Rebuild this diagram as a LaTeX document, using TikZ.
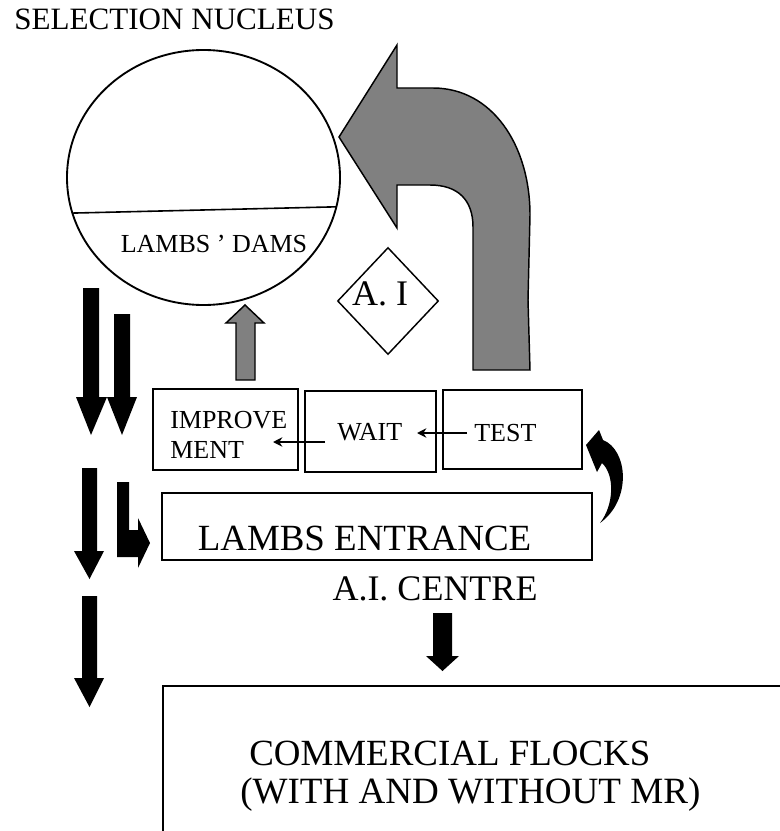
\documentclass[tikz,border=0pt]{standalone}
\usepackage{fontspec}
\setmainfont{Liberation Serif}
\usetikzlibrary{shapes.geometric,arrows.meta}
\newcommand\fsz[1]{\fontsize{#1}{#1}\selectfont}
\tikzset{
  boxline/.style={draw=black,line width=1.1pt},
  lbl/.style={inner sep=0pt,anchor=base},
  lblw/.style={inner sep=0pt,anchor=base west},
  blockblack/.style={fill=black,draw=none},
  blockgray/.style={fill=gray,draw=black,line width=1.1pt,line join=miter},
  thinarrow/.style={line width=1.2pt,-{Stealth[length=7pt,width=7pt]}}
}
\begin{document}
\begin{tikzpicture}[x=0.75pt,y=-0.75pt]
\useasboundingbox (0,0) rectangle (780,831);
\clip (0,0) rectangle (780,831);
% title
\node[lbl] (title) at (174.5,30) {\fsz{23.3}SELECTION NUCLEUS};
% nucleus circle
\node[ellipse,draw=black,line width=1.4pt,minimum width=204.75pt,minimum height=191.25pt,inner sep=0pt] (nucleus) at (203.5,177.5) {};
\begin{scope}
\clip (203.5,177.5) ellipse [x radius=136.5, y radius=127.5];
\draw[line width=1.2pt] (55,213.5) -- (350,206.5);
\end{scope}
\node[lbl] (dams) at (214,252) {\fsz{19.5}LAMBS ’ DAMS};
% big gray curved arrow
\path[blockgray] (339,137) -- (397,45) -- (397,88) -- (433,88)
  .. controls (492,88) and (530,145) .. (530,215) -- (528,300) -- (530,370)
  -- (473,370) -- (473,227)
  .. controls (473,200) and (458,185) .. (430,185) -- (397,185) -- (397,228) -- cycle;
% diamond
\node[diamond,draw=black,line width=1.1pt,minimum width=75.75pt,minimum height=80.25pt,inner sep=0pt,aspect=1] (ai) at (388,301) {};
\node[lbl] (aitext) at (380,305) {\fsz{27}A. I};
% gray up arrow
\path[blockgray] (236,380) -- (236,323) -- (226,323) -- (245,305) -- (264,323) -- (255,323) -- (255,380) -- cycle;
% boxes
\draw[boxline] (153,389) rectangle (298,470);
\node[inner sep=0pt] (improve) at (225.5,429.5) {};
\draw[boxline] (305,391) rectangle (436,472);
\node[inner sep=0pt] (wait) at (370.5,431.5) {};
\draw[boxline] (443,390) rectangle (582,469);
\node[inner sep=0pt] (test) at (512.5,429.5) {};
\node[lblw] (impt1) at (170,428) {\fsz{19.5}IMPROVE};
\node[lblw] (impt2) at (170,458) {\fsz{19.5}MENT};
\node[lblw] (waitt) at (337,440) {\fsz{19.5}WAIT};
\node[lblw] (testt) at (474,441) {\fsz{19.5}TEST};
\coordinate (t1) at (467,433);
\coordinate (t2) at (417,433);
\coordinate (w1) at (325,442);
\coordinate (w2) at (273,442);
\draw[thinarrow] (t1) -- (t2);
\draw[thinarrow] (w1) -- (w2);
% entrance box
\draw[boxline] (162,493) rectangle (592,560);
\node[lbl] (entrance) at (364.5,550) {\fsz{27.7}LAMBS ENTRANCE};
\node[lbl] (aicentre) at (435,600) {\fsz{27}A.I. CENTRE};
% curved black arrow on the right
\path[blockblack] (586,445) -- (599,430) -- (603,440)
  .. controls (628,450) and (632,500) .. (600,523)
  .. controls (614,505) and (615,475) .. (602,463)
  -- (597,472) -- cycle;
% left black arrows
\path[blockblack] (83,288) -- (99,288) -- (99,397) -- (107,397) -- (91,435) -- (76,397) -- (83,397) -- cycle;
\path[blockblack] (114,314) -- (130,314) -- (130,397) -- (137,397) -- (122,435) -- (107,397) -- (114,397) -- cycle;
\path[blockblack] (82,468) -- (97,468) -- (97,551) -- (104,551) -- (89.5,579) -- (74,551) -- (82,551) -- cycle;
\path[blockblack] (82,596) -- (97,596) -- (97,678) -- (104,678) -- (89.5,707) -- (74,678) -- (82,678) -- cycle;
\path[blockblack] (117,482) -- (129,482) -- (129,530) -- (138,530) -- (138,518) -- (150,543) -- (138,568) -- (138,557) -- (117,557) -- cycle;
% arrow to commercial flocks
\path[blockblack] (433,613) -- (452,613) -- (452,656) -- (459,656) -- (442.5,671) -- (426,656) -- (433,656) -- cycle;
% commercial flocks box (extends beyond picture)
\draw[boxline] (163,686) rectangle (800,860);
\node[lblw] (comm1) at (249,765) {\fsz{27.7}COMMERCIAL FLOCKS};
\node[lblw] (comm2) at (240,803) {\fsz{27.8}(WITH AND WITHOUT MR)};
\end{tikzpicture}
\end{document}
